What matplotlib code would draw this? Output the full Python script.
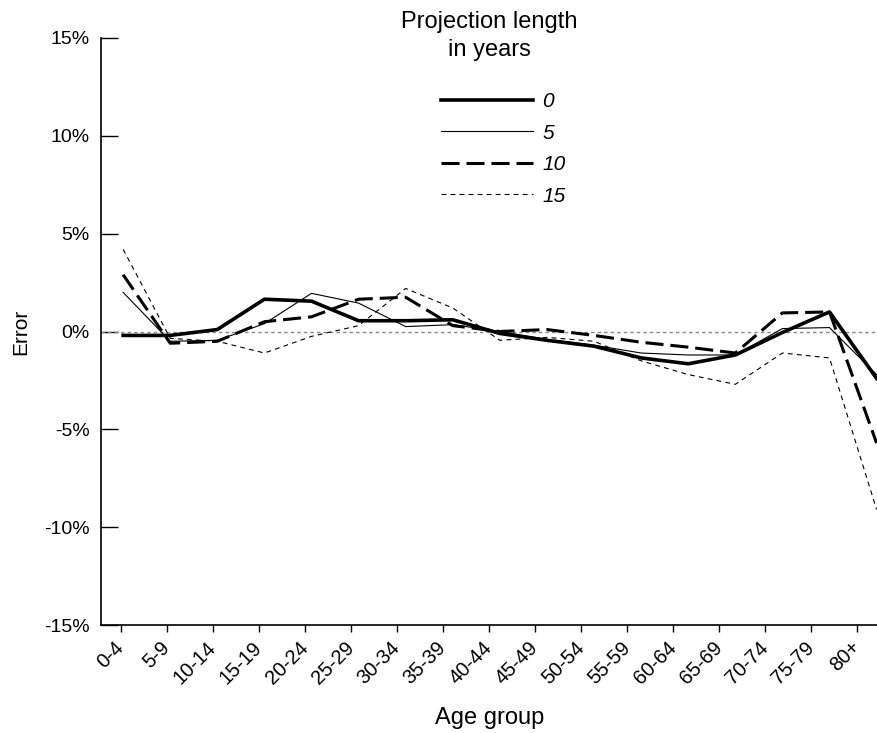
import numpy as np
import matplotlib
matplotlib.use("Agg")
from matplotlib import pyplot as plt

plt.rcParams["font.family"] = ["Liberation Sans", "DejaVu Sans"]
plt.rcParams["lines.scale_dashes"] = False

age_groups = ["0-4", "5-9", "10-14", "15-19", "20-24", "25-29", "30-34", "35-39",
              "40-44", "45-49", "50-54", "55-59", "60-64", "65-69", "70-74", "75-79", "80+"]

# error in percent, by projection length
err_0 = [-0.2, -0.2, 0.1, 1.65, 1.55, 0.55, 0.55, 0.6, -0.1, -0.45, -0.75, -1.35, -1.65, -1.2, -0.05, 1.0, -2.4]
err_5 = [2.0, -0.5, -0.45, 0.4, 1.95, 1.45, 0.25, 0.35, 0.0, -0.4, -0.7, -1.1, -1.2, -1.2, 0.15, 0.2, -2.2]
err_10 = [2.9, -0.6, -0.5, 0.5, 0.75, 1.65, 1.75, 0.3, 0.0, 0.1, -0.2, -0.55, -0.8, -1.1, 0.95, 1.0, -5.7]
err_15 = [4.2, -0.35, -0.5, -1.1, -0.25, 0.3, 2.2, 1.2, -0.45, -0.3, -0.5, -1.5, -2.2, -2.7, -1.1, -1.35, -9.1]

series_labels = ["0", "5", "10", "15"]
y_ticks = [-15, -10, -5, 0, 5, 10, 15]

fig = plt.figure(figsize=(8.78, 7.33), dpi=100)
ax = fig.add_axes([101 / 878, 1 - 625 / 733, 1 - 101 / 878, (625 - 38) / 733])

x = np.arange(len(age_groups))

# zero reference
ax.plot([-0.47, 16.03], [0, 0], color="#888888", lw=1.0, dashes=(2.5, 2.2))

l0, = ax.plot(x, err_0, color="black", lw=2.6)
l5, = ax.plot(x, err_5, color="black", lw=0.8)
l10, = ax.plot(x, err_10, color="black", lw=2.2, dashes=(13, 5))
l15, = ax.plot(x, err_15, color="black", lw=0.8, dashes=(3.5, 3))

ax.set_xlim(-0.47, 16.03)
ax.set_ylim(-15, 15)

# tick marks sit slightly off the data points, as in the original
ax.set_xticks(x * 0.9766 - 0.04)
ax.set_xticklabels(age_groups, rotation=45, ha="right", va="center",
                   rotation_mode="anchor", fontsize=14.5)
ax.tick_params(axis="x", direction="out", length=5, width=1, pad=9)

ax.set_yticks(y_ticks)
ax.set_yticklabels([f"{v}%" for v in y_ticks], fontsize=14)
ax.tick_params(axis="y", direction="in", length=12, width=1, pad=8)

for s in ["top", "right"]:
    ax.spines[s].set_visible(False)
ax.spines["left"].set_linewidth(1.2)
ax.spines["bottom"].set_linewidth(1.2)

ax.set_ylabel("Error", fontsize=15, labelpad=10)
fig.text(490 / 878, 1 - 718 / 733, "Age group", ha="center", va="center", fontsize=17)

fig.text(489 / 878, 1 - 36 / 733, "Projection length\nin years", ha="center",
         va="center", fontsize=17, linespacing=1.3)
leg = fig.legend([l0, l5, l10, l15], series_labels, loc="center left",
                 bbox_to_anchor=(441 / 878, 1 - 149 / 733), frameon=False,
                 handlelength=4.4, handletextpad=0.45, labelspacing=0.6,
                 borderpad=0, borderaxespad=0, prop={"size": 15, "style": "italic"})

fig.savefig("out.png", dpi=100)
